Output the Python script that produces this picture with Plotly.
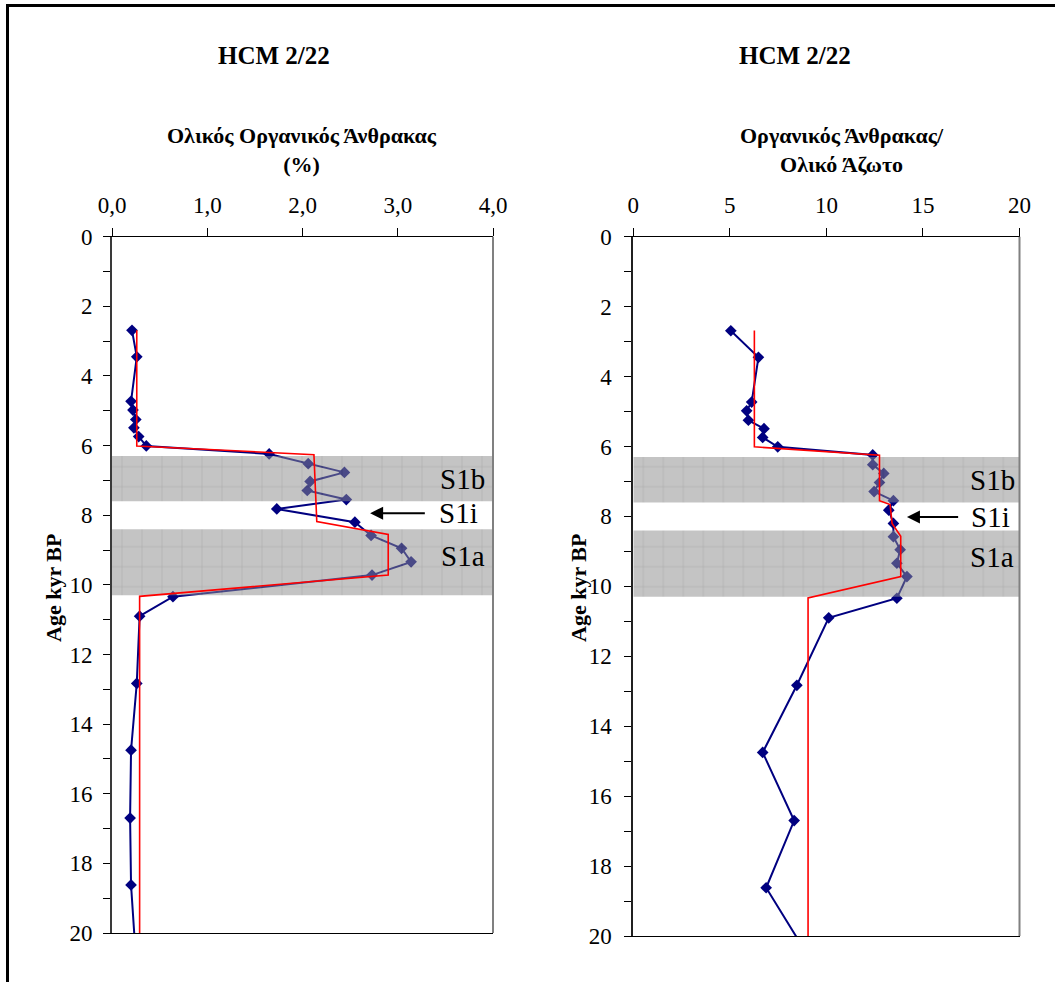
import plotly.graph_objects as go

# ---------------- data ----------------
age_kyr = [2.69, 3.45, 4.73, 4.98, 5.25, 5.49, 5.74, 6.01, 6.24, 6.52, 6.77, 7.03, 7.29,
           7.55, 7.82, 8.20, 8.58, 8.95, 9.34, 9.72, 10.34, 10.90, 12.83, 14.75, 16.70,
           18.62, 20.7]
toc_pct = [0.21, 0.26, 0.20, 0.22, 0.25, 0.23, 0.28, 0.36, 1.65, 2.06, 2.44, 2.08, 2.05,
           2.46, 1.73, 2.55, 2.72, 3.04, 3.14, 2.73, 0.64, 0.29, 0.26, 0.20, 0.19, 0.20, 0.25]
c_n_ratio = [5.05, 6.48, 6.13, 5.87, 5.96, 6.77, 6.70, 7.48, 12.40, 12.40, 12.97, 12.75, 12.47,
             13.47, 13.23, 13.47, 13.47, 13.82, 13.65, 14.17, 13.65, 10.12, 8.47, 6.70, 8.33,
             6.88, 9.2]

toc_mean_age = [2.69, 6.01, 6.26, 8.18, 8.55, 9.72, 10.33, 20.7]
toc_mean_val = [0.26, 0.26, 2.12, 2.15, 2.90, 2.90, 0.29, 0.29]

cn_mean_age = [2.68, 6.01, 6.25, 7.55, 7.66, 8.20, 8.57, 9.72, 10.33, 20.7]
cn_mean_val = [6.27, 6.27, 12.75, 12.75, 13.30, 13.40, 13.85, 13.85, 9.05, 9.05]

zone_names = ["S1b", "S1a"]
zone_top = [6.3, 8.4]
zone_bottom = [7.6, 10.3]

title_text = "HCM 2/22"
xtitle_left = "Ολικός Οργανικός Άνθρακας<br>(%)"
xtitle_right = "Οργανικός Άνθρακας/<br>Ολικό Άζωτο"
ytitle = "Age kyr BP"
left_ticks = [0, 1, 2, 3, 4]
left_ticklabels = ["0,0", "1,0", "2,0", "3,0", "4,0"]
right_ticks = [0, 5, 10, 15, 20]

# ---------------- layout helpers ----------------
W, H = 1055, 982
FONT = "Liberation Serif, Times New Roman, serif"


def px_x(p):
    return p / W


def px_y(p):
    return 1 - p / H


fig = go.Figure()

panels = [
    dict(xa="x", ya="y", xr=[0, 4], vals=toc_pct, mean_age=toc_mean_age, mean_val=toc_mean_val),
    dict(xa="x2", ya="y2", xr=[0, 20], vals=c_n_ratio, mean_age=cn_mean_age, mean_val=cn_mean_val),
]

for p in panels:
    # measured series (below the zone bands)
    fig.add_trace(go.Scatter(
        x=p["vals"], y=age_kyr, xaxis=p["xa"], yaxis=p["ya"], mode="lines+markers",
        line=dict(color="#000080", width=2),
        marker=dict(symbol="diamond", size=9, color="#000080"),
        showlegend=False, hoverinfo="skip"))
    # zone bands (semi-transparent, above the measured series)
    for top, bot in zip(zone_top, zone_bottom):
        x0, x1 = p["xr"][0], p["xr"][1] * 1.008
        fig.add_trace(go.Scatter(
            x=[x0, x1, x1, x0, x0], y=[top, top, bot, bot, top],
            xaxis=p["xa"], yaxis=p["ya"], mode="lines", fill="toself",
            line=dict(width=0), fillcolor="#8e8e8e",
            fillpattern=dict(shape="+", bgcolor="#8e8e8e", fgcolor="#303030",
                             size=20, solidity=0.06),
            opacity=0.52, showlegend=False, hoverinfo="skip"))
    # zone mean step line
    fig.add_trace(go.Scatter(
        x=p["mean_val"], y=p["mean_age"], xaxis=p["xa"], yaxis=p["ya"], mode="lines",
        line=dict(color="#ff0000", width=1.6), showlegend=False, hoverinfo="skip"))

axis_common = dict(showgrid=False, zeroline=False, showline=True, automargin=False,
                   tickfont=dict(family=FONT, size=23, color="black"))

fig.update_layout(
    width=W, height=H, margin=dict(l=0, r=0, t=0, b=0, pad=0, autoexpand=False),
    paper_bgcolor="white", plot_bgcolor="white", showlegend=False,
    xaxis=dict(domain=[px_x(112), px_x(493)], range=[0, 4], side="top", anchor="y",
               tickvals=left_ticks, ticktext=left_ticklabels, ticks="outside", ticklen=8,
               tickcolor="black", linecolor="black", linewidth=1, mirror=True,
               ticklabelstandoff=6, **axis_common),
    yaxis=dict(domain=[px_y(933), px_y(236.7)], range=[20, 0], anchor="x",
               dtick=2, ticks="outside", ticklen=7, tickcolor="black",
               minor=dict(dtick=1, ticks="outside", ticklen=7, tickcolor="black"),
               linecolor="#3a3a3a", linewidth=2, ticklabelstandoff=6, **axis_common),
    xaxis2=dict(domain=[px_x(633.3), px_x(1019.5)], range=[0, 20], side="top", anchor="y2",
                tickvals=right_ticks, ticks="outside", ticklen=8, tickcolor="black",
                linecolor="black", linewidth=1, mirror=True, ticklabelstandoff=6,
                **axis_common),
    yaxis2=dict(domain=[px_y(936), px_y(236.7)], range=[20, 0], anchor="x2",
                dtick=2, ticks="outside", ticklen=7, tickcolor="black",
                minor=dict(dtick=1, ticks="outside", ticklen=7, tickcolor="black"),
                linecolor="#202020", linewidth=2, ticklabelstandoff=8, **axis_common),
)

# right edges of the plot frames
for xa, ya in [("x", "y"), ("x2", "y2")]:
    fig.add_shape(type="line", xref=f"{xa} domain", yref=f"{ya} domain",
                  x0=1, x1=1, y0=0, y1=1, line=dict(color="#808080", width=2))

# outer frame (partly outside the canvas)
fig.add_shape(type="rect", xref="paper", yref="paper",
              x0=px_x(7.5), x1=px_x(1070), y0=px_y(1000), y1=px_y(5.5),
              line=dict(color="black", width=3), fillcolor="rgba(0,0,0,0)")

annots = []
# titles
for cx in [274, 795]:
    annots.append(dict(text=f"<b>{title_text}</b>", x=px_x(cx), y=px_y(55), xref="paper",
                       yref="paper", showarrow=False, xanchor="center", yanchor="middle",
                       font=dict(family=FONT, size=25, color="black")))
# x-axis titles
for cx, txt in [(302, xtitle_left), (842, xtitle_right)]:
    annots.append(dict(text=f"<b>{txt}</b>", x=px_x(cx), y=px_y(150), xref="paper",
                       yref="paper", showarrow=False, xanchor="center", yanchor="middle",
                       font=dict(family=FONT, size=22, color="black")))
# y-axis titles
for cx in [53, 578]:
    annots.append(dict(text=f"<b>{ytitle}</b>", x=px_x(cx), y=px_y(588), xref="paper",
                       yref="paper", showarrow=False, textangle=-90, xanchor="center",
                       yanchor="middle", font=dict(family=FONT, size=22, color="black")))

# zone labels and S1i arrow
label_font = dict(family=FONT, size=29, color="black")
for xa, ya, xs, s1b_y, s1a_y, s1i_x, s1i_y, arr_tail, arr_head in [
        ("x", "y", 3.68, 6.97, 9.16, 3.64, 7.94, 3.30, 2.71),
        ("x2", "y2", 18.6, 6.97, 9.16, 18.5, 8.02, 16.9, 14.17)]:
    annots.append(dict(text="S1b", x=xs, y=s1b_y, xref=xa, yref=ya, showarrow=False,
                       xanchor="center", yanchor="middle", font=label_font))
    annots.append(dict(text="S1a", x=xs, y=s1a_y, xref=xa, yref=ya, showarrow=False,
                       xanchor="center", yanchor="middle", font=label_font))
    annots.append(dict(text="S1i", x=s1i_x, y=s1i_y, xref=xa, yref=ya, showarrow=False,
                       xanchor="center", yanchor="middle", font=label_font))
    annots.append(dict(text="", x=arr_head, y=s1i_y, ax=arr_tail, ay=s1i_y,
                       xref=xa, yref=ya, axref=xa, ayref=ya, showarrow=True,
                       arrowhead=2, arrowsize=1.3, arrowwidth=2, arrowcolor="black"))

fig.update_layout(annotations=annots)

fig.write_html("out.html")
